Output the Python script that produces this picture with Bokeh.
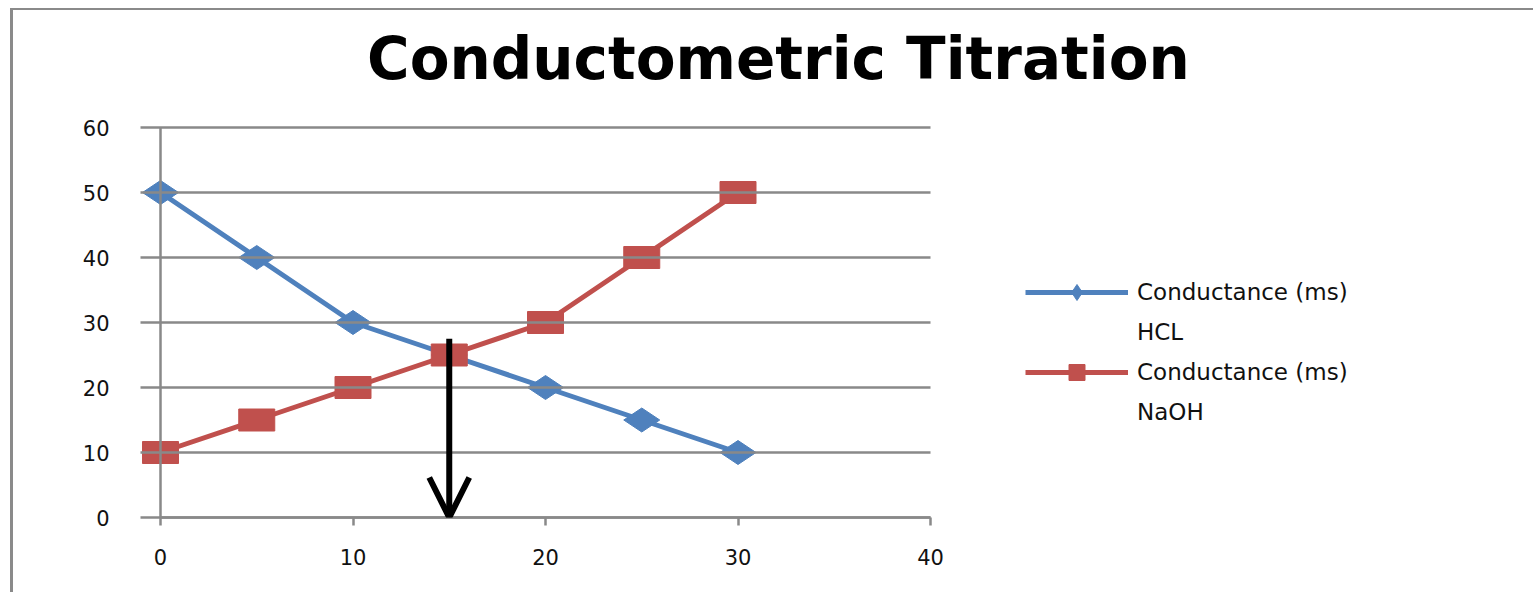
import math
from bokeh.plotting import figure
from bokeh.models import (Range1d, FixedTicker, Legend, LegendItem, Arrow, OpenHead, Label,
                          LinearAxis)
from bokeh.embed import file_html
from bokeh.resources import INLINE

# ---- data ----
title_text = "Conductometric Titration"
volume = [0, 5, 10, 15, 20, 25, 30]
hcl = [50, 40, 30, 25, 20, 15, 10]
naoh = [10, 15, 20, 25, 30, 40, 50]
series_name = "Conductance (ms)"
hcl_name = "HCL"
naoh_name = "NaOH"
x_ticks = [0, 10, 20, 30, 40]
y_ticks = [0, 10, 20, 30, 40, 50, 60]
x_max = 40
y_max = 60
arrow_x = 15
arrow_top = 27.5
arrow_bottom = 0

BLUE = "#4F81BD"
RED = "#C0504D"
GRID = "#898989"
FONT = "DejaVu Sans"

# layout (pixels)
W, H = 1523, 584
LEFT, BOTTOM = 127, 77
PAD_LEFT = 20                      # room left of x=0 inside the frame (for markers)
AXIS_W, AXIS_H = 770, 390          # size of the 0..40 x 0..60 area
FRAME_W, FRAME_H = W - LEFT, H - BOTTOM
px_x = AXIS_W / x_max
x_start = -PAD_LEFT / px_x

p = figure(width=W, height=H, output_backend="svg", toolbar_location=None,
           x_range=Range1d(x_start, x_start + FRAME_W / px_x),
           y_range=Range1d(0, y_max * FRAME_H / AXIS_H),
           min_border_left=LEFT, min_border_right=0,
           min_border_top=0, min_border_bottom=BOTTOM)
p.styles = {"margin-left": "10px", "margin-top": "8px",
            "border-left": "3px solid #8a8a8a", "border-top": "2px solid #8a8a8a"}
p.outline_line_color = None
p.background_fill_color = "white"
p.border_fill_color = "white"

p.xgrid.visible = False
p.ygrid.visible = False

for ax in (p.xaxis[0], p.yaxis[0]):
    ax.axis_line_color = GRID
    ax.axis_line_width = 2.5
    ax.major_tick_line_color = GRID
    ax.major_tick_line_width = 2.5
    ax.minor_tick_line_color = None
    ax.major_label_text_font = FONT
    ax.major_label_text_font_size = "21px"
    ax.major_label_text_color = "#111111"

p.xaxis.ticker = FixedTicker(ticks=x_ticks)
p.yaxis.ticker = FixedTicker(ticks=y_ticks)
p.xaxis.bounds = (0, x_max)
p.yaxis.bounds = (0, y_max)
p.xaxis.major_tick_in = 0
p.xaxis.major_tick_out = 8
p.xaxis.major_label_standoff = 23
# y labels + horizontal gridlines: ticks drawn from the frame edge across the 0..40 area
p.yaxis.axis_line_color = None
p.yaxis.major_tick_in = PAD_LEFT + AXIS_W
p.yaxis.major_tick_out = 0
p.yaxis.major_label_standoff = 31

# vertical axis line at x = 0
y_line = LinearAxis(fixed_location=0, bounds=(0, y_max), ticker=FixedTicker(ticks=[]),
                    axis_line_color=GRID, axis_line_width=2.5,
                    major_tick_line_color=None, minor_tick_line_color=None,
                    major_label_text_alpha=0)
p.add_layout(y_line, "left")

l1 = p.line(volume, hcl, line_color=BLUE, line_width=5)
s1 = p.scatter(volume, hcl, marker="diamond", angle=math.pi / 2, size=36,
               fill_color=BLUE, line_color=BLUE)
l2 = p.line(volume, naoh, line_color=RED, line_width=5)
# square markers sit underneath the wider rectangles (used for the legend swatch)
s2 = p.scatter(volume, naoh, marker="square", size=20, fill_color=RED, line_color=RED)
p.rect(volume, naoh, width=36, height=22, width_units="screen", height_units="screen",
       fill_color=RED, line_color=RED)

p.add_layout(Arrow(end=OpenHead(size=40, line_width=6, line_color="black"),
                   x_start=arrow_x, y_start=arrow_top, x_end=arrow_x, y_end=arrow_bottom,
                   line_width=6, line_color="black"))

p.add_layout(Label(x=32.1, y=70.5, text=title_text,
                   text_align="center", text_baseline="middle",
                   text_font=FONT, text_font_style="bold", text_font_size="58px",
                   text_color="black"))

legend = Legend(items=[LegendItem(label=series_name, renderers=[l1, s1]),
                       LegendItem(label=hcl_name, renderers=[]),
                       LegendItem(label=series_name, renderers=[l2, s2]),
                       LegendItem(label=naoh_name, renderers=[])],
                location=(865 + PAD_LEFT, 85), padding=0, margin=0, spacing=0,
                glyph_width=103, glyph_height=40, label_standoff=9,
                label_text_font=FONT, label_text_font_size="23px",
                label_text_color="#111111",
                border_line_color=None, background_fill_alpha=0)
p.add_layout(legend)

open("out.html", "w").write(file_html(p, INLINE))
